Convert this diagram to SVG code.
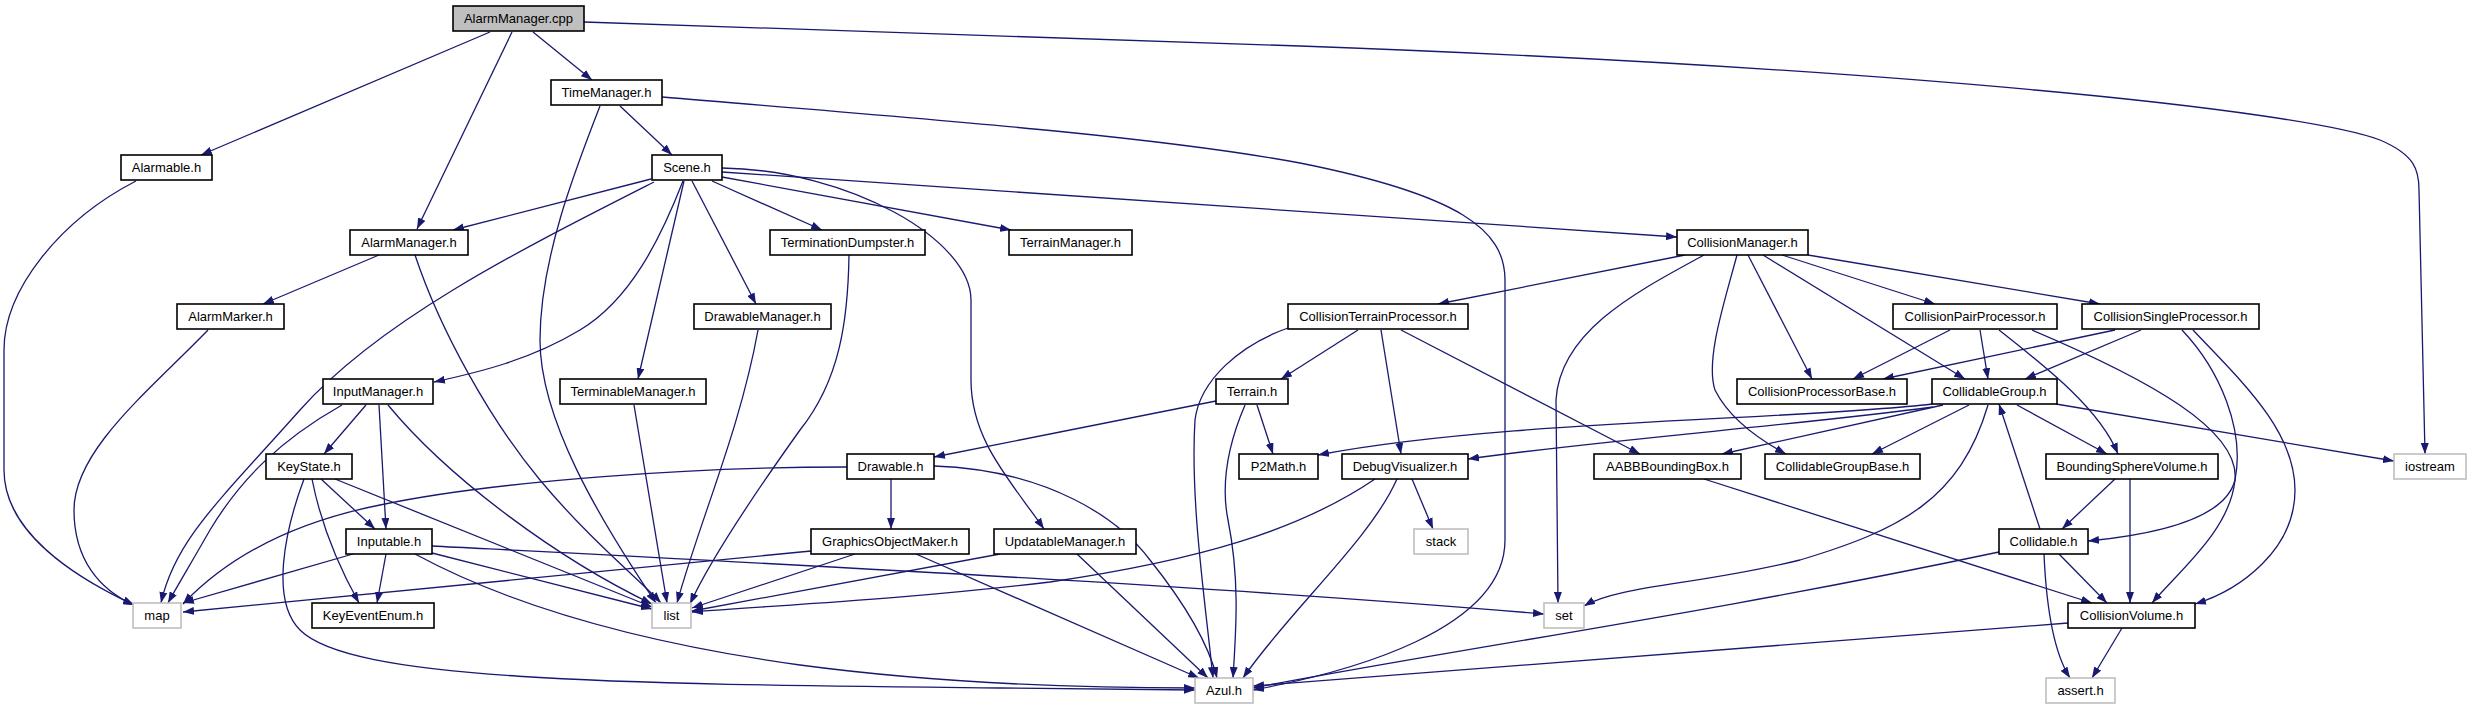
<svg xmlns="http://www.w3.org/2000/svg" width="2472" height="709" viewBox="0 0 2472 709">
<style>
.bg{fill:#ffffff}
.n rect.b{fill:#ffffff;stroke:#000000;stroke-width:1.6}
.x rect.b{fill:#ffffff;stroke:#bfbfbf;stroke-width:1.6}
.r rect.b{fill:#bfbfbf;stroke:#000000;stroke-width:1.6}
rect.s{fill:#c8c8c8}
text{font-family:"Liberation Sans",Arial,sans-serif;font-size:13px;fill:#000000;text-anchor:middle}
#edges path{fill:none;stroke:#191970;stroke-width:1.3;marker-end:url(#a)}
</style>
<defs>
<marker id="a" viewBox="0 0 11 8" refX="11" refY="4" markerWidth="11" markerHeight="8" markerUnits="userSpaceOnUse" orient="auto">
<path d="M0,0 L11,4 L0,8 z" fill="#191970"/>
</marker>
</defs>
<rect class="bg" x="0" y="0" width="2472" height="709"/>
<g id="edges">
<path d="M490,32 L201,155"/>
<path d="M512,32 L417,229"/>
<path d="M533,32 L592,80"/>
<path d="M584,22 L1300,46 C1900,68 2300,110 2380,140 C2415,155 2419,170 2419,190 L2425,454"/>
<path d="M620,106 L672,155"/>
<path d="M600,106 C575,170 540,260 540,340 C540,420 600,520 656,603"/>
<path d="M662,97 C900,117 1150,135 1300,163 C1460,195 1505,230 1505,280 L1505,540 C1505,630 1350,672 1253,690"/>
<path d="M136,181 C60,220 4,290 4,350 L4,470 C4,530 70,575 134,605"/>
<path d="M379,255 L263,304"/>
<path d="M415,255 C440,330 490,420 540,480 C590,540 640,580 661,603"/>
<path d="M208,330 C150,390 74,450 74,510 C74,560 100,590 134,605"/>
<path d="M651,179 L453,230"/>
<path d="M654,182 C520,250 380,320 300,410 C220,500 175,540 161,603"/>
<path d="M683,181 C660,240 630,300 580,330 C530,360 480,372 434,382"/>
<path d="M684,181 L638,379"/>
<path d="M692,181 L756,304"/>
<path d="M712,181 L822,230"/>
<path d="M722,177 L1011,230"/>
<path d="M722,172 L1677,237"/>
<path d="M722,168 C850,170 971,240 971,300 L971,380 C971,440 1010,480 1044,529"/>
<path d="M366,405 L324,454"/>
<path d="M342,405 C280,440 240,480 210,530 C190,565 175,590 168,603"/>
<path d="M379,405 L386,529"/>
<path d="M388,405 C450,480 560,560 652,604"/>
<path d="M321,479 L375,529"/>
<path d="M312,479 C320,520 335,560 359,603"/>
<path d="M335,479 L652,607"/>
<path d="M304,479 C285,530 270,600 300,630 C350,680 600,684 1000,688 L1195,690"/>
<path d="M386,554 L377,603"/>
<path d="M353,554 L183,603"/>
<path d="M432,553 L652,609"/>
<path d="M432,546 C800,565 1200,585 1544,614"/>
<path d="M415,554 C500,600 620,640 800,665 C950,685 1100,688 1195,688"/>
<path d="M634,405 L667,603"/>
<path d="M758,330 C740,430 700,520 677,603"/>
<path d="M849,255 C848,320 840,380 800,430 C750,500 710,560 690,604"/>
<path d="M891,479 L891,529"/>
<path d="M847,467 C700,467 500,480 380,505 C280,525 220,565 183,604"/>
<path d="M934,466 C1050,470 1120,520 1150,560 C1190,610 1210,650 1217,678"/>
<path d="M811,551 L183,612"/>
<path d="M855,554 L692,608"/>
<path d="M916,554 L1199,678"/>
<path d="M1000,554 L692,611"/>
<path d="M1077,554 L1208,678"/>
<path d="M1216,401 L934,457"/>
<path d="M1257,405 L1273,454"/>
<path d="M1245,405 C1230,440 1220,480 1228,520 C1240,580 1236,630 1233,678"/>
<path d="M1358,330 L1281,379"/>
<path d="M1288,328 C1240,345 1200,380 1195,420 C1190,500 1205,600 1213,678"/>
<path d="M1381,330 L1401,454"/>
<path d="M1401,330 L1640,454"/>
<path d="M1685,255 L1438,304"/>
<path d="M1782,255 L1935,304"/>
<path d="M1808,255 L2100,304"/>
<path d="M1704,255 C1640,290 1560,330 1556,400 L1558,603"/>
<path d="M1737,255 C1725,300 1705,360 1715,390 C1730,420 1760,440 1786,454"/>
<path d="M1748,255 L1812,379"/>
<path d="M1763,255 L1965,379"/>
<path d="M1950,330 L1853,379"/>
<path d="M1980,330 L1988,379"/>
<path d="M1999,330 C2050,370 2100,410 2118,454"/>
<path d="M2032,330 C2150,380 2240,430 2235,480 C2230,530 2180,570 2152,603"/>
<path d="M2115,330 L1883,379"/>
<path d="M2141,330 L2025,379"/>
<path d="M2182,330 C2220,370 2245,430 2235,480 C2225,520 2150,535 2088,541"/>
<path d="M2193,330 C2240,380 2295,430 2295,490 C2295,550 2240,590 2195,604"/>
<path d="M1932,404 C1800,420 1500,420 1318,455"/>
<path d="M1933,407 C1800,425 1600,440 1468,459"/>
<path d="M1943,405 L1722,454"/>
<path d="M1969,405 L1872,454"/>
<path d="M2017,405 L2107,454"/>
<path d="M2056,404 L2394,461"/>
<path d="M1988,405 C1960,500 1900,530 1800,560 C1700,585 1620,585 1584,606"/>
<path d="M2040,529 L1999,404"/>
<path d="M2059,554 L2107,603"/>
<path d="M2044,554 C2046,600 2052,650 2070,678"/>
<path d="M1999,552 C1700,615 1450,650 1253,688"/>
<path d="M2115,479 L2062,529"/>
<path d="M2130,479 L2130,603"/>
<path d="M2122,628 L2092,678"/>
<path d="M2068,623 L1253,686"/>
<path d="M1704,479 L2092,603"/>
<path d="M1412,479 L1433,529"/>
<path d="M1375,479 C1300,530 1200,560 1050,582 C900,600 780,605 692,612"/>
<path d="M1397,479 C1370,540 1290,610 1243,678"/>
</g>
<g id="n_root" class="r"><rect class="b" x="453" y="6" width="131" height="25"/><text x="518.5" y="23">AlarmManager.cpp</text></g>
<g id="n_timemanager" class="n"><rect class="b" x="551" y="80" width="111" height="25"/><text x="606.5" y="97">TimeManager.h</text></g>
<g id="n_alarmable" class="n"><rect class="b" x="121" y="155" width="91" height="25"/><text x="166.5" y="172">Alarmable.h</text></g>
<g id="n_scene" class="n"><rect class="b" x="652" y="155" width="70" height="25"/><text x="687" y="172">Scene.h</text></g>
<g id="n_alarmmanager" class="n"><rect class="b" x="350" y="230" width="118" height="25"/><text x="409" y="247">AlarmManager.h</text></g>
<g id="n_terminationdumpster" class="n"><rect class="b" x="770" y="230" width="155" height="25"/><text x="847.5" y="247">TerminationDumpster.h</text></g>
<g id="n_terrainmanager" class="n"><rect class="b" x="1009" y="230" width="123" height="25"/><text x="1070.5" y="247">TerrainManager.h</text></g>
<g id="n_collisionmanager" class="n"><rect class="b" x="1677" y="230" width="131" height="25"/><text x="1742.5" y="247">CollisionManager.h</text></g>
<g id="n_alarmmarker" class="n"><rect class="b" x="177" y="304" width="107" height="25"/><text x="230.5" y="321">AlarmMarker.h</text></g>
<g id="n_drawablemanager" class="n"><rect class="b" x="694" y="304" width="137" height="25"/><text x="762.5" y="321">DrawableManager.h</text></g>
<g id="n_collisionterrainprocessor" class="n"><rect class="b" x="1288" y="304" width="180" height="25"/><text x="1378" y="321">CollisionTerrainProcessor.h</text></g>
<g id="n_collisionpairprocessor" class="n"><rect class="b" x="1893" y="304" width="164" height="25"/><text x="1975" y="321">CollisionPairProcessor.h</text></g>
<g id="n_collisionsingleprocessor" class="n"><rect class="b" x="2082" y="304" width="177" height="25"/><text x="2170.5" y="321">CollisionSingleProcessor.h</text></g>
<g id="n_inputmanager" class="n"><rect class="b" x="323" y="379" width="110" height="25"/><text x="378" y="396">InputManager.h</text></g>
<g id="n_terminablemanager" class="n"><rect class="b" x="560" y="379" width="146" height="25"/><text x="633" y="396">TerminableManager.h</text></g>
<g id="n_terrain" class="n"><rect class="b" x="1216" y="379" width="72" height="25"/><text x="1252" y="396">Terrain.h</text></g>
<g id="n_collisionprocessorbase" class="n"><rect class="b" x="1737" y="379" width="170" height="25"/><text x="1822" y="396">CollisionProcessorBase.h</text></g>
<g id="n_collidablegroup" class="n"><rect class="b" x="1932" y="379" width="125" height="25"/><text x="1994.5" y="396">CollidableGroup.h</text></g>
<g id="n_keystate" class="n"><rect class="b" x="266" y="454" width="86" height="25"/><text x="309" y="471">KeyState.h</text></g>
<g id="n_drawable" class="n"><rect class="b" x="847" y="454" width="87" height="25"/><text x="890.5" y="471">Drawable.h</text></g>
<g id="n_p2math" class="n"><rect class="b" x="1239" y="454" width="79" height="25"/><text x="1278.5" y="471">P2Math.h</text></g>
<g id="n_debugvisualizer" class="n"><rect class="b" x="1342" y="454" width="126" height="25"/><text x="1405" y="471">DebugVisualizer.h</text></g>
<g id="n_aabbboundingbox" class="n"><rect class="b" x="1594" y="454" width="147" height="25"/><text x="1667.5" y="471">AABBBoundingBox.h</text></g>
<g id="n_collidablegroupbase" class="n"><rect class="b" x="1765" y="454" width="155" height="25"/><text x="1842.5" y="471">CollidableGroupBase.h</text></g>
<g id="n_boundingspherevolume" class="n"><rect class="b" x="2046" y="454" width="172" height="25"/><text x="2132" y="471">BoundingSphereVolume.h</text></g>
<g id="n_iostream" class="x"><rect class="b" x="2394" y="454" width="72" height="25"/><text x="2430" y="471">iostream</text></g>
<g id="n_inputable" class="n"><rect class="b" x="346" y="529" width="86" height="25"/><text x="389" y="546">Inputable.h</text></g>
<g id="n_graphicsobjectmaker" class="n"><rect class="b" x="811" y="529" width="158" height="25"/><text x="890" y="546">GraphicsObjectMaker.h</text></g>
<g id="n_updatablemanager" class="n"><rect class="b" x="994" y="529" width="142" height="25"/><text x="1065" y="546">UpdatableManager.h</text></g>
<g id="n_stack" class="x"><rect class="b" x="1414" y="529" width="54" height="25"/><text x="1441" y="546">stack</text></g>
<g id="n_collidable" class="n"><rect class="b" x="1999" y="529" width="89" height="25"/><text x="2043.5" y="546">Collidable.h</text></g>
<g id="n_map" class="x"><rect class="b" x="133" y="603" width="48" height="25"/><text x="157" y="620">map</text></g>
<g id="n_keyeventenum" class="n"><rect class="b" x="312" y="603" width="122" height="25"/><text x="373" y="620">KeyEventEnum.h</text></g>
<g id="n_list" class="x"><rect class="b" x="652" y="603" width="39" height="25"/><text x="671.5" y="620">list</text></g>
<g id="n_set" class="x"><rect class="b" x="1544" y="603" width="40" height="25"/><text x="1564" y="620">set</text></g>
<g id="n_collisionvolume" class="n"><rect class="b" x="2068" y="603" width="127" height="25"/><text x="2131.5" y="620">CollisionVolume.h</text></g>
<g id="n_azul" class="x"><rect class="b" x="1195" y="678" width="58" height="25"/><text x="1224" y="695">Azul.h</text></g>
<g id="n_assert" class="x"><rect class="b" x="2046" y="678" width="69" height="25"/><text x="2080.5" y="695">assert.h</text></g>
</svg>
